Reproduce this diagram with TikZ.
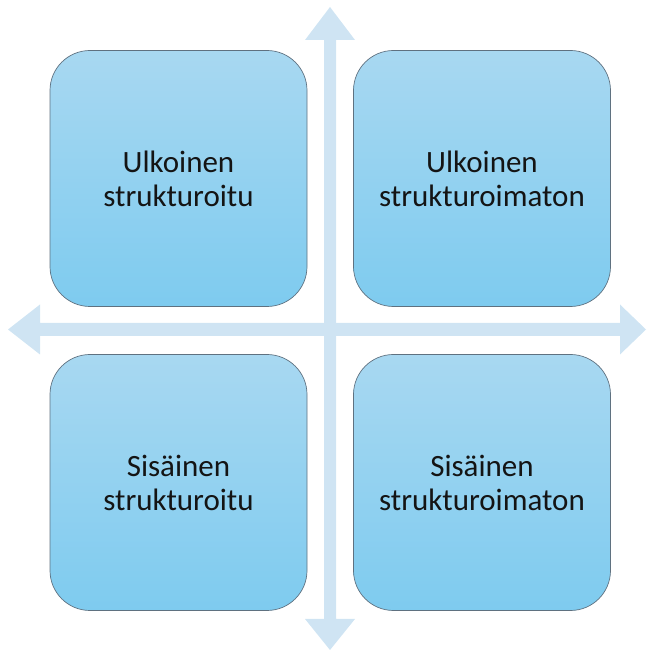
\documentclass[tikz,border=0pt]{standalone}
\usepackage{fontspec}
\setmainfont{Carlito}
\definecolor{axis}{HTML}{CFE4F3}
\definecolor{boxtop}{HTML}{A8D8F1}
\definecolor{boxbot}{HTML}{7ECBEF}
\definecolor{edge}{HTML}{5F7180}

\begin{document}
\begin{tikzpicture}[x=1pt, y=1pt, font=\fontsize{31}{34}\selectfont,
    q/.style={draw=edge, line width=0.7pt, rounded corners=40pt, align=center,
              top color=boxtop, bottom color=boxbot, minimum width=257pt,
              minimum height=256pt, inner sep=0pt, text=black!92}]
    \useasboundingbox (0,0) rectangle (646,651);

    % axes
    \fill[axis] (324,32) -- (305,32) -- (330,1) -- (355,32) -- (336,32)
      -- (336,611) -- (355,611) -- (330,644) -- (305,611) -- (324,611) -- cycle;
    \fill[axis] (40,315) -- (40,296.5) -- (8,321.5) -- (40,346.5) -- (40,328)
      -- (620,328) -- (620,346.5) -- (646,321.5) -- (620,296.5) -- (620,315) -- cycle;

    \node[q] (ul) at (178.5,472.5) {Ulkoinen\\strukturoitu};
    \node[q] (ur) at (482,472.5)   {Ulkoinen\\strukturoimaton};
    \node[q] (sl) at (178.5,168.5) {Sisäinen\\strukturoitu};
    \node[q] (sr) at (482,168.5)   {Sisäinen\\strukturoimaton};
  \end{tikzpicture}
\end{document}
